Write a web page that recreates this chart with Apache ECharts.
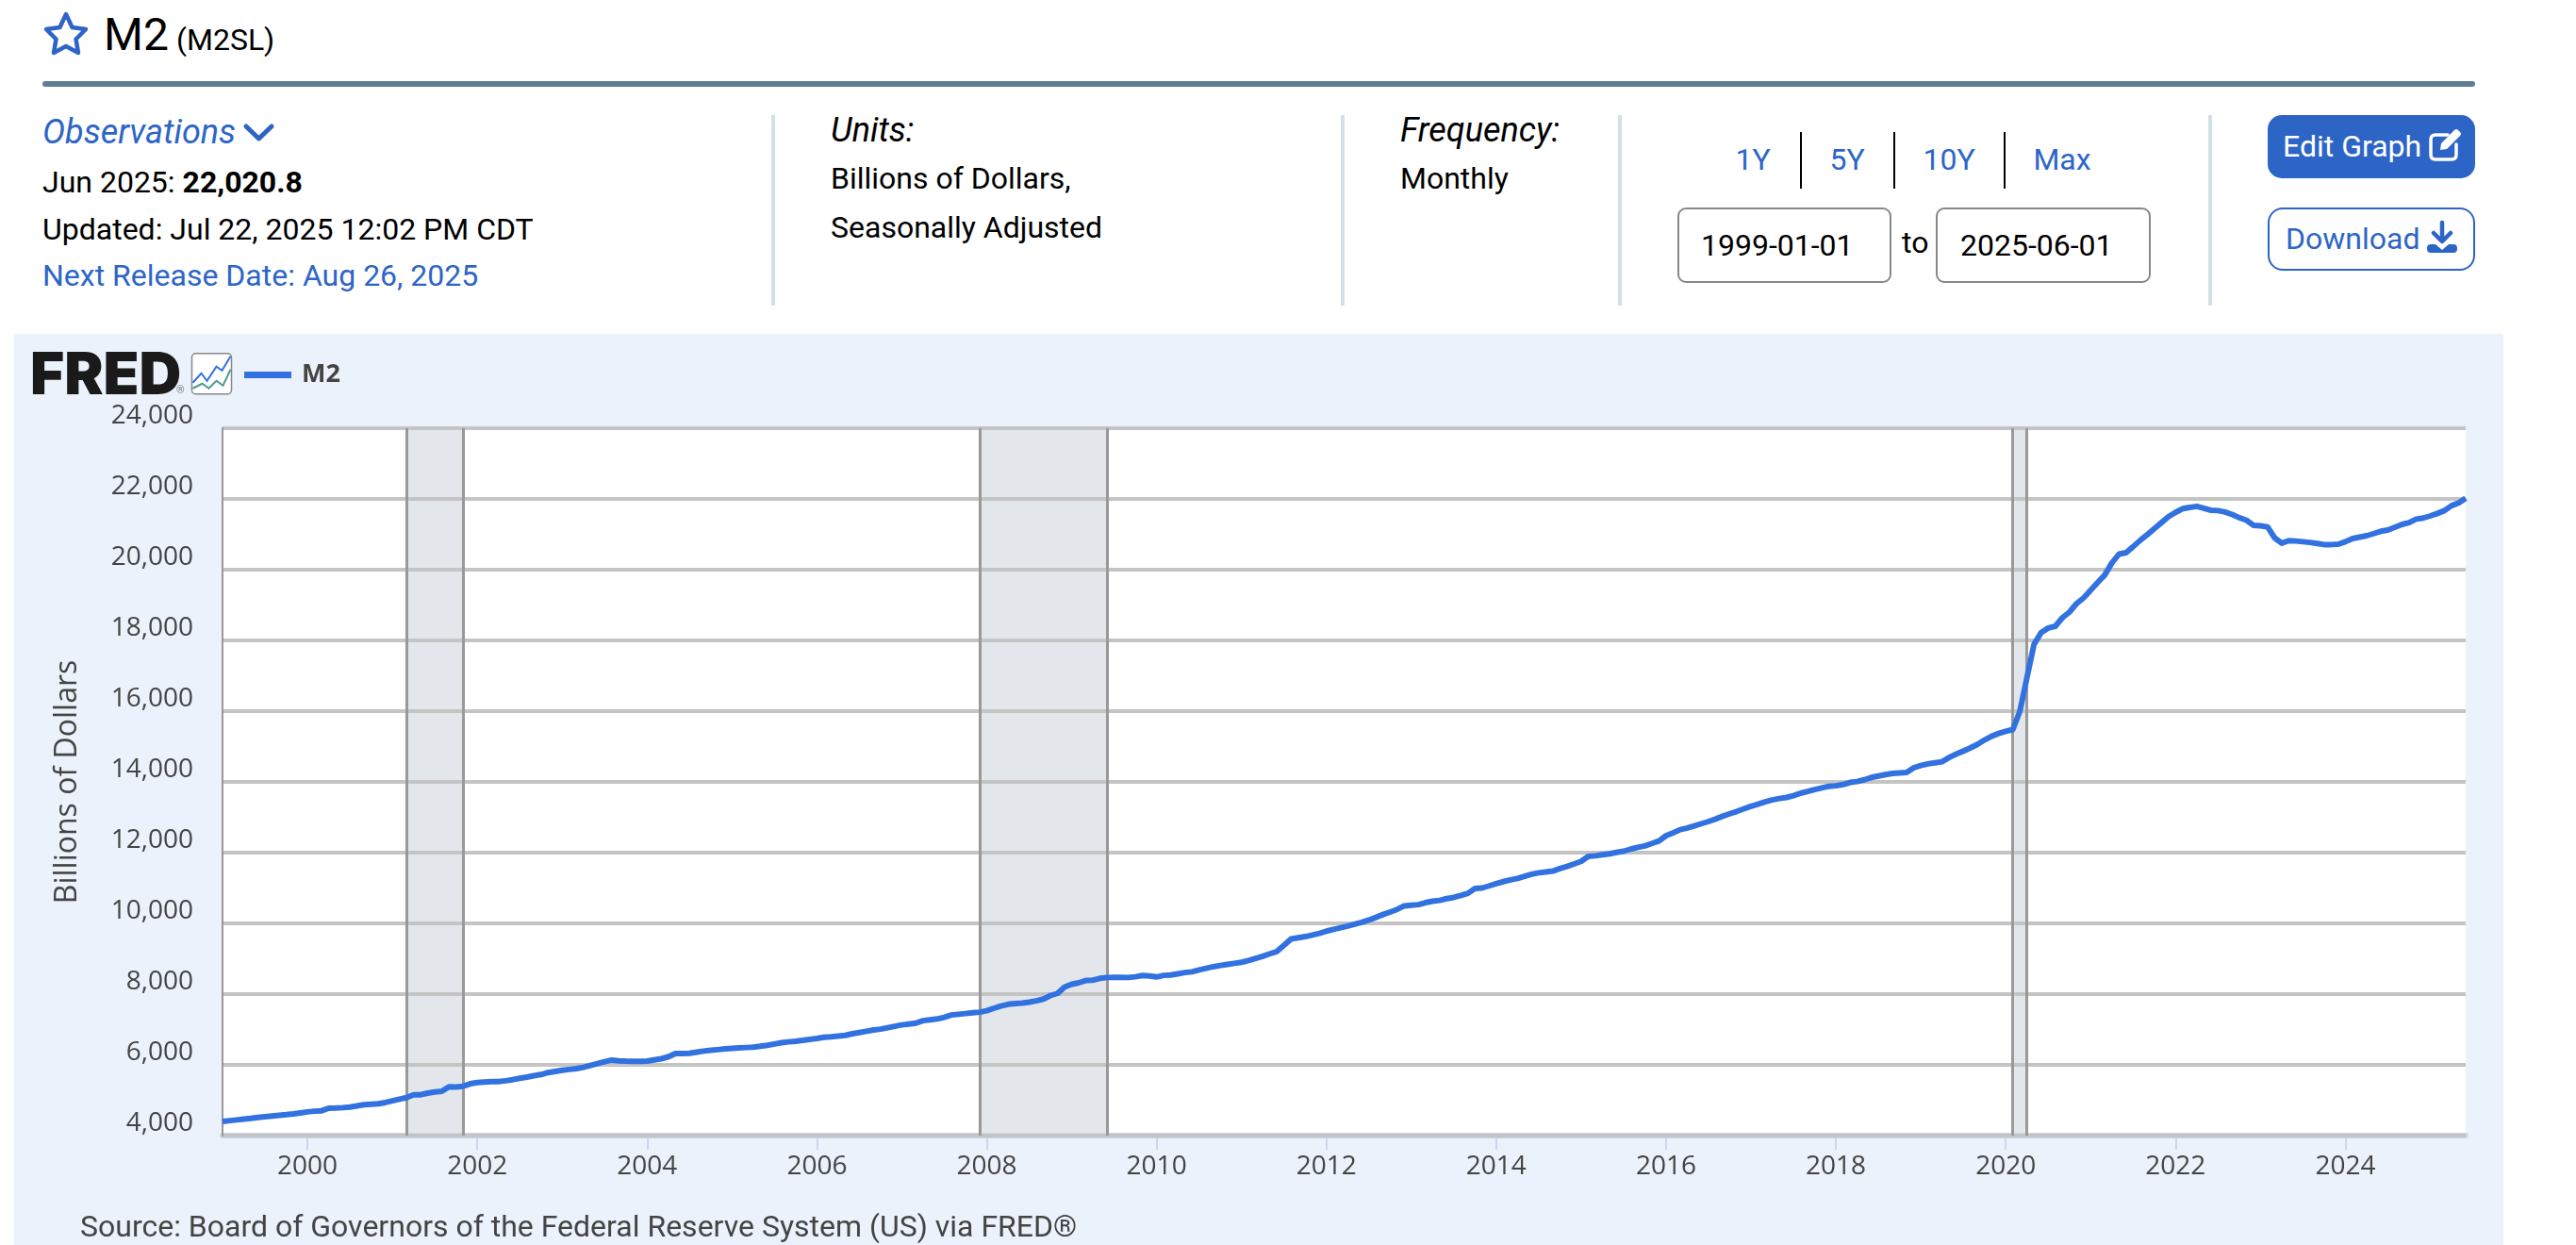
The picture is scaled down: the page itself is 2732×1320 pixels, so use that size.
<!DOCTYPE html>
<html>
<head>
<meta charset="utf-8">
<title>M2 (M2SL)</title>
<script src="https://cdn.jsdelivr.net/npm/echarts@6/dist/echarts.min.js"></script>
<style>
html,body{margin:0;padding:0;background:#fff;width:2732px;height:1320px;overflow:hidden}
#head{position:absolute;left:0;top:0}
#head text{font-family:Roboto,sans-serif;font-size:32px;fill:#000}
#head .blue{fill:#2d65c7}
#head .it{font-style:italic;font-size:36px}
#panel{position:absolute;left:15px;top:354px;width:2640px;height:966px;background:#ebf2fb}
</style>
</head>
<body>
<svg id="head" width="2732" height="354" viewBox="0 0 2732 354">
  <path d="M70 15 L76.5 29 L91 31 L80.5 41.5 L83 56 L70 49 L57 56 L59.5 41.5 L49 31 L63.5 29 Z" fill="none" stroke="#2d65c7" stroke-width="4.5" stroke-linejoin="round"/>
  <text x="110" y="53" style="font-size:48px">M2</text>
  <text x="187" y="53">(M2SL)</text>
  <rect x="45" y="86" width="2580" height="6" rx="3" fill="#5e7d97"/>

  <text x="45" y="152" class="blue it">Observations</text>
  <path d="M261 134 L274.5 147 L288 134" fill="none" stroke="#2d65c7" stroke-width="5" stroke-linecap="round" stroke-linejoin="round"/>
  <text x="45" y="204">Jun 2025: <tspan font-weight="700">22,020.8</tspan></text>
  <text x="45" y="254">Updated: Jul 22, 2025 12:02 PM CDT</text>
  <text x="45" y="303" class="blue">Next Release Date: Aug 26, 2025</text>

  <rect x="818" y="122" width="4" height="202" fill="#d2e1e6"/>
  <rect x="1422" y="122" width="4" height="202" fill="#d2e1e6"/>
  <rect x="1716" y="122" width="4" height="202" fill="#d2e1e6"/>
  <rect x="2342" y="122" width="4" height="202" fill="#d2e1e6"/>

  <text x="881" y="150" class="it">Units:</text>
  <text x="881" y="200">Billions of Dollars,</text>
  <text x="881" y="252">Seasonally Adjusted</text>

  <text x="1485" y="150" class="it">Frequency:</text>
  <text x="1485" y="200">Monthly</text>

  <text x="1859" y="180" class="blue" text-anchor="middle">1Y</text>
  <text x="1959" y="180" class="blue" text-anchor="middle">5Y</text>
  <text x="2067" y="180" class="blue" text-anchor="middle">10Y</text>
  <text x="2187" y="180" class="blue" text-anchor="middle">Max</text>
  <rect x="1909" y="140" width="2" height="60" fill="#000"/>
  <rect x="2008" y="140" width="2" height="60" fill="#000"/>
  <rect x="2125" y="140" width="2" height="60" fill="#000"/>

  <rect x="1780" y="221" width="225" height="78" rx="8" fill="#fff" stroke="#888" stroke-width="2"/>
  <text x="1804" y="271">1999-01-01</text>
  <text x="2017" y="268">to</text>
  <rect x="2054" y="221" width="226" height="78" rx="8" fill="#fff" stroke="#888" stroke-width="2"/>
  <text x="2079" y="271">2025-06-01</text>

  <rect x="2405" y="122" width="220" height="67" rx="15" fill="#2d65c7"/>
  <text x="2421" y="166" style="fill:#fff">Edit Graph</text>
  <path d="M2596 143 H2583 Q2578 143 2578 148 V164 Q2578 169 2583 169 H2600 Q2605 169 2605 164 V153" fill="none" stroke="#fff" stroke-width="3.5" stroke-linecap="round"/>
  <path d="M2588 159 L2589 152 L2603 138 Q2605 136 2607 138 L2609 140 Q2611 142 2609 144 L2595 158 Z" fill="#fff"/>

  <rect x="2406" y="221" width="218" height="65" rx="15" fill="#fff" stroke="#2d65c7" stroke-width="2"/>
  <text x="2424" y="264" class="blue">Download</text>
  <path d="M2590 236 V255 M2581 247 L2590 256 L2599 247" fill="none" stroke="#2d65c7" stroke-width="4.5" stroke-linecap="round" stroke-linejoin="round"/>
  <path d="M2578 259 H2583 L2590 265 L2597 259 H2602 Q2606 259 2606 263 V264 Q2606 268 2602 268 H2578 Q2574 268 2574 264 V263 Q2574 259 2578 259 Z" fill="#2d65c7"/>
</svg>
<div id="panel"></div>
<script>
// Monthly M2 (Billions of Dollars), Jan 1999 - Jun 2025
const m2Values = [
  4400,4423,4443,4464,4488,4512,4536,4555,4575,4591,4612,4640, // 1999
  4670,4690,4702,4773,4778,4790,4809,4840,4873,4888,4900,4935, // 2000
  4982,5030,5073,5155,5155,5200,5232,5255,5382,5373,5396,5465, // 2001
  5500,5515,5525,5527,5550,5582,5620,5655,5695,5725,5782,5815, // 2002
  5845,5870,5895,5930,5985,6036,6090,6136,6115,6105,6100,6100, // 2003
  6109,6140,6173,6227,6318,6322,6327,6360,6390,6412,6430,6452, // 2004
  6468,6480,6490,6500,6525,6555,6590,6625,6650,6667,6695,6720, // 2005
  6745,6780,6795,6815,6833,6880,6915,6950,6985,7010,7050,7090, // 2006
  7130,7155,7180,7250,7275,7298,7345,7410,7430,7450,7472,7490, // 2007
  7530,7600,7665,7712,7735,7745,7775,7810,7860,7960,8020,8200, // 2008
  8280,8320,8385,8395,8445,8470,8475,8472,8470,8490,8525,8515, // 2009
  8485,8530,8540,8575,8610,8630,8685,8730,8775,8810,8840,8870, // 2010
  8900,8950,9010,9070,9140,9205,9380,9562,9595,9625,9670,9715, // 2011
  9780,9830,9875,9925,9975,10030,10095,10170,10250,10320,10395,10495, // 2012
  10515,10530,10585,10625,10650,10700,10735,10790,10850,10985,11000,11060, // 2013
  11125,11180,11230,11270,11330,11390,11430,11455,11478,11550,11610,11680, // 2014
  11754,11895,11910,11940,11965,12005,12040,12100,12150,12190,12260,12330, // 2015
  12480,12560,12650,12695,12755,12820,12880,12950,13030,13100,13165,13240, // 2016
  13310,13370,13435,13490,13530,13560,13610,13680,13730,13785,13830,13875, // 2017
  13890,13925,13985,14010,14060,14125,14165,14205,14240,14255,14266,14400, // 2018
  14465,14510,14540,14570,14690,14785,14870,14960,15060,15185,15290,15370, // 2019
  15430,15480,16000,16950,17890,18220,18350,18400,18640,18800,19040,19200, // 2020
  19420,19640,19850,20190,20440,20480,20650,20830,20990,21160,21330,21500, // 2021
  21620,21725,21760,21790,21735,21680,21670,21630,21560,21470,21400,21255, // 2022
  21240,21210,20900,20750,20820,20810,20790,20770,20740,20710,20710,20720, // 2023
  20790,20880,20920,20960,21020,21085,21120,21200,21280,21330,21430,21460, // 2024
  21520,21590,21670,21810,21885,22020.8 // 2025
];
const startYear = 1999;
const recessions = [['2001-03-01','2001-11-01'],['2007-12-01','2009-06-01'],['2020-02-01','2020-04-01']];
const yMin = 4000, yMax = 24000, yStep = 2000;
const seriesName = 'M2';
const yAxisTitle = 'Billions of Dollars';
const sourceText = 'Source: Board of Governors of the Federal Reserve System (US) via FRED®';

const months = m2Values.map((_, i) => {
  const y = startYear + Math.floor(i / 12), m = i % 12 + 1;
  return y + '-' + String(m).padStart(2, '0') + '-01';
});
const isTick = (i, v) => v.slice(5, 7) === '01' && Number(v.slice(0, 4)) % 2 === 0;
const axisFont = '"Open Sans",sans-serif';

const chart = echarts.init(document.getElementById('panel'), null, {renderer: 'canvas'});
chart.setOption({
  animation: false,
  backgroundColor: 'transparent',
  grid: {left: 221, top: 100, width: 2379, height: 750, show: true, backgroundColor: '#fff', borderWidth: 0},
  legend: {
    data: [seriesName], left: 239, top: 25, icon: 'rect', itemWidth: 50, itemHeight: 7, itemGap: 0,
    textStyle: {fontFamily: axisFont, fontWeight: 700, fontSize: 27, color: '#444', padding: [0, 0, 0, 6]},
    selectedMode: false
  },
  xAxis: {
    type: 'category', data: months, boundaryGap: false, z: 1,
    axisLine: {lineStyle: {color: '#ccd6eb', width: 6}},
    axisTick: {interval: isTick, length: 15, lineStyle: {color: '#ccd6eb', width: 2}},
    axisLabel: {
      interval: isTick, margin: 19, fontFamily: axisFont, fontSize: 28, color: '#444',
      formatter: v => v.slice(0, 4), hideOverlap: false
    },
    splitLine: {show: false}
  },
  yAxis: {
    type: 'value', min: yMin, max: yMax, interval: yStep, z: 3,
    name: yAxisTitle, nameLocation: 'middle', nameGap: 148, nameRotate: 90,
    nameTextStyle: {fontFamily: axisFont, fontSize: 32, color: '#444'},
    axisLine: {show: true, onZero: false, lineStyle: {color: '#999', width: 2}},
    axisTick: {show: false},
    axisLabel: {
      margin: 31, fontFamily: axisFont, fontSize: 28, color: '#444',
      verticalAlign: 'bottom', lineHeight: 26,
      formatter: v => v.toLocaleString('en-US')
    },
    splitLine: {show: true, lineStyle: {color: '#c4c4c4', width: 4}}
  },
  series: [
    {
      name: 'Recessions', type: 'line', data: [], z: 1, silent: true, symbol: 'none',
      markArea: {silent: true, itemStyle: {color: '#e3e7ec'}, data: recessions.map(r => [{xAxis: r[0]}, {xAxis: r[1]}])},
      markLine: {
        silent: true, symbol: 'none', label: {show: false},
        lineStyle: {type: 'solid', color: '#999', width: 3},
        data: recessions.flat().map(d => ({xAxis: d}))
      }
    },
    {
      name: seriesName, type: 'line', data: m2Values, z: 5, symbol: 'none', showSymbol: false,
      clip: true, lineStyle: {color: '#3171e0', width: 6, join: 'round'},
      itemStyle: {color: '#3171e0'}
    }
  ],
  graphic: [
    {type: 'text', left: 70, top: 933, style: {text: sourceText, font: '32px Roboto,sans-serif', fill: '#444'}},
    {type: 'text', left: 17, top: 14, style: {text: 'FRED', font: '900 62px Inter,sans-serif', fill: '#1a1a1a'}},
    {type: 'text', left: 172, top: 55, style: {text: '®', font: '11px Roboto,sans-serif', fill: '#777'}},
    {type: 'group', left: 187, top: 20, children: [
      {type: 'rect', shape: {x: 0, y: 0, width: 42, height: 43, r: 4}, style: {fill: '#fff', stroke: '#888', lineWidth: 1.5}},
      {type: 'polyline', shape: {points: [[1,31],[10,21],[16,29],[26,14],[32,18],[41,3]]}, style: {fill: 'none', stroke: '#3171e0', lineWidth: 2}},
      {type: 'polyline', shape: {points: [[1,37],[11,32],[18,37],[26,29],[33,34],[41,17]]}, style: {fill: 'none', stroke: '#4a9d8f', lineWidth: 2}}
    ]}
  ]
});
</script>
</body>
</html>
